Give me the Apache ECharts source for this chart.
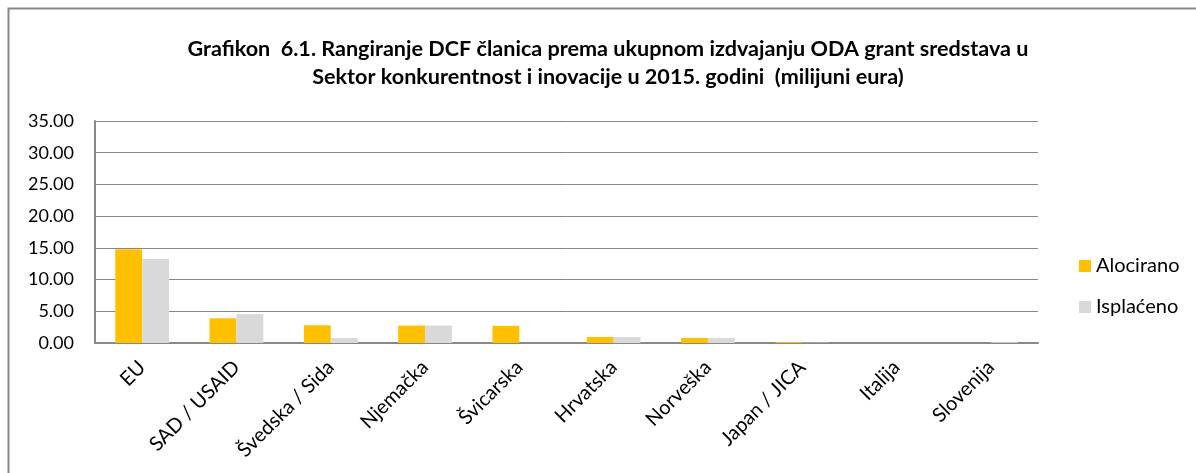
<!DOCTYPE html>
<html><head><meta charset="utf-8">
<script src="https://cdn.jsdelivr.net/npm/echarts@6/dist/echarts.min.js"></script>
<style>html,body{margin:0;padding:0;background:#fff;}#c{width:1196px;height:473px;}</style>
</head><body><div id="c"></div>
<script>
const categories = ['EU','SAD / USAID','Švedska / Sida','Njemačka','Švicarska','Hrvatska','Norveška','Japan / JICA','Italija','Slovenija'];
const alocirano = [14.8, 3.9, 2.8, 2.75, 2.7, 0.95, 0.8, 0.15, 0, 0];
const isplaceno = [13.25, 4.55, 0.8, 2.75, 0, 0.95, 0.8, 0.05, 0, 0.12];
const yTicks = {min: 0, max: 35, interval: 5};
const titleText = 'Grafikon  6.1. Rangiranje DCF članica prema ukupnom izdvajanju ODA grant sredstava u\nSektor konkurentnost i inovacije u 2015. godini  (milijuni eura)';
const FONT = 'Lato';
const chart = echarts.init(document.getElementById('c'));
chart.setOption({
  animation: false,
  textStyle: {fontFamily: FONT},
  graphic: [{type: 'rect', shape: {x: 8.5, y: 8.5, width: 1400, height: 700}, style: {fill: 'none', stroke: '#888', lineWidth: 2}, silent: true}],
  title: {text: titleText, left: 603, top: 30, textAlign: 'center',
    textStyle: {fontFamily: FONT, fontSize: 21.6, fontWeight: 'bold', color: '#000', lineHeight: 28}},
  legend: {orient: 'vertical', left: 1074, top: 251, itemWidth: 12, itemHeight: 12, itemGap: 21, icon: 'rect',
    textStyle: {fontFamily: FONT, fontSize: 20, color: '#000'},
    data: ['Alocirano','Isplaćeno']},
  grid: {left: 95, right: 158, top: 121, bottom: 130},
  xAxis: {type: 'category', data: categories,
    axisLine: {lineStyle: {color: '#888', width: 2}}, axisTick: {show: false},
    axisLabel: {rotate: 45, fontFamily: FONT, fontSize: 20, color: '#000', margin: 21, interval: 0}},
  yAxis: {type: 'value', min: yTicks.min, max: yTicks.max, interval: yTicks.interval,
    axisLine: {show: true, lineStyle: {color: '#888', width: 2}}, axisTick: {show: false},
    splitLine: {lineStyle: {color: '#888', width: 1}},
    axisLabel: {fontFamily: FONT, fontSize: 18, color: '#000', margin: 21, formatter: v => v.toFixed(2)}},
  series: [
    {name: 'Alocirano', type: 'bar', data: alocirano, itemStyle: {color: '#FFC000'}, barGap: '0%', barCategoryGap: '43%'},
    {name: 'Isplaćeno', type: 'bar', data: isplaceno, itemStyle: {color: '#D9D9D9'}, barGap: '0%', barCategoryGap: '43%'}
  ]
});
</script></body></html>
